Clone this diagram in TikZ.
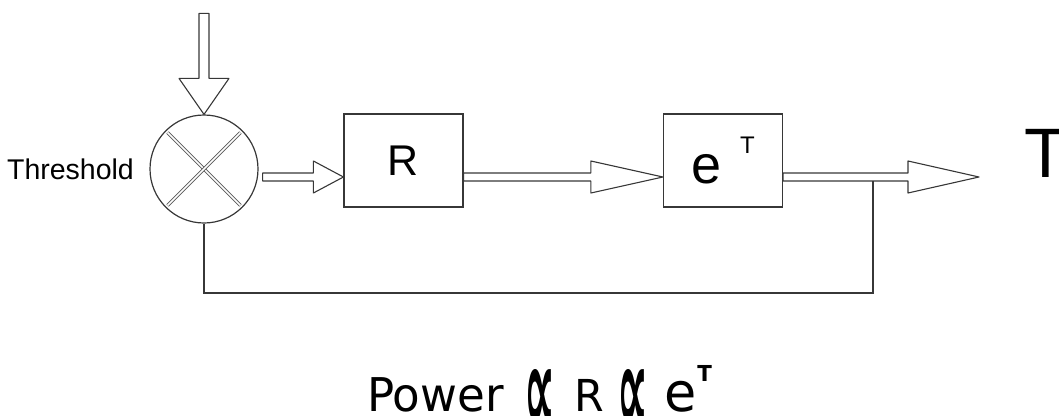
\documentclass[tikz,border=0pt]{standalone}
\usepackage{fontspec}
\usepackage{graphicx}
\setmainfont{Liberation Sans}
\newfontfamily\lawfont{DejaVu Sans}[FakeStretch=0.97]
\usetikzlibrary{positioning,calc}

\definecolor{linegray}{RGB}{55,55,55}

% hollow block arrow: from, to, head length, shaft half width, head half width
\newcommand{\hollowarrow}[5]{%
  \coordinate (hb) at ($(#2)!#3!(#1)$);
  \draw[flow] ($(#1)!#4!90:(#2)$) -- ($(hb)!#4!90:(#2)$) -- ($(hb)!#5!90:(#2)$) -- (#2)
    -- ($(hb)!#5!-90:(#2)$) -- ($(hb)!#4!-90:(#2)$) -- ($(#1)!#4!-90:(#2)$) -- cycle;
}
\newcommand{\propsym}{\raisebox{-22pt}{\resizebox{31pt}{64pt}{\bfseries ∝}}}

\tikzset{
  block/.style={draw=linegray, line width=1.2pt, minimum width=119pt, minimum height=93pt, inner sep=0pt, font=\fontsize{43}{43}\selectfont},
  junction/.style={circle, draw=linegray, line width=1.2pt, minimum size=108pt, inner sep=0pt},
  cross/.style={draw=gray!70!black, line width=0.8pt, double=white, double distance=1.6pt, shorten <=3pt, shorten >=3pt},
  flow/.style={draw=linegray, line width=1.1pt, line join=round},
  wire/.style={draw=linegray, line width=1.2pt}
}

\begin{document}
\begin{tikzpicture}[x=1pt,y=-1pt]
	\useasboundingbox (0,0) rectangle (1059,415);
	
	\node[junction] (sum) at (204,169) {};
	\draw[cross] (sum.135) -- (sum.-45);
	\draw[cross] (sum.45) -- (sum.-135);
	\node[left=12pt of sum, font=\fontsize{28.5}{28.5}\selectfont] (thr) {Threshold};
	
	\node[block] (r) at (403.5,160.5) {R};
	\node[block] (e) at (723,160.5) {{\fontsize{54}{54}\selectfont e}\hspace{19pt}\raisebox{30pt}{\fontsize{24}{24}\selectfont T}};
	
	\coordinate (in) at ([yshift=101pt]sum.north);
	\coordinate (s1) at ([shift={(4,8)}]sum.east);
	\coordinate (r-in) at (r.west |- s1);
	\coordinate (r-out) at (r.east |- s1);
	\coordinate (e-in) at (e.west |- s1);
	\coordinate (e-out) at (e.east |- s1);
	\coordinate (out) at (979,177);
	\coordinate (tap) at ($(out)+(-106,4)$);
	
	\hollowarrow{in}{sum.north}{36pt}{5pt}{25pt}
	\hollowarrow{s1}{r-in}{30pt}{4pt}{16pt}
	\hollowarrow{r-out}{e-in}{72pt}{4pt}{16pt}
	\hollowarrow{e-out}{out}{71pt}{4pt}{16pt}
	
	\node[anchor=base west, inner sep=0pt, font=\fontsize{70}{70}\selectfont] (tout) at ([xshift=45pt]out) {T};
	
	% feedback path
	\draw[wire] (tap) -- ++(0,112) -| (sum.south);
	
	\node[anchor=base west, inner sep=0pt, font=\lawfont\fontsize{46.5}{46.5}\selectfont] (law) at (367,411.5)
		{Power\hspace{21pt}\propsym\hspace{19pt}{\fontsize{44}{44}\selectfont R}\hspace{13pt}\propsym\hspace{16pt}{\fontsize{54}{54}\selectfont e}\hspace{1pt}\raisebox{30pt}{\fontsize{22}{22}\selectfont\bfseries T}};
	
\end{tikzpicture}
\end{document}
